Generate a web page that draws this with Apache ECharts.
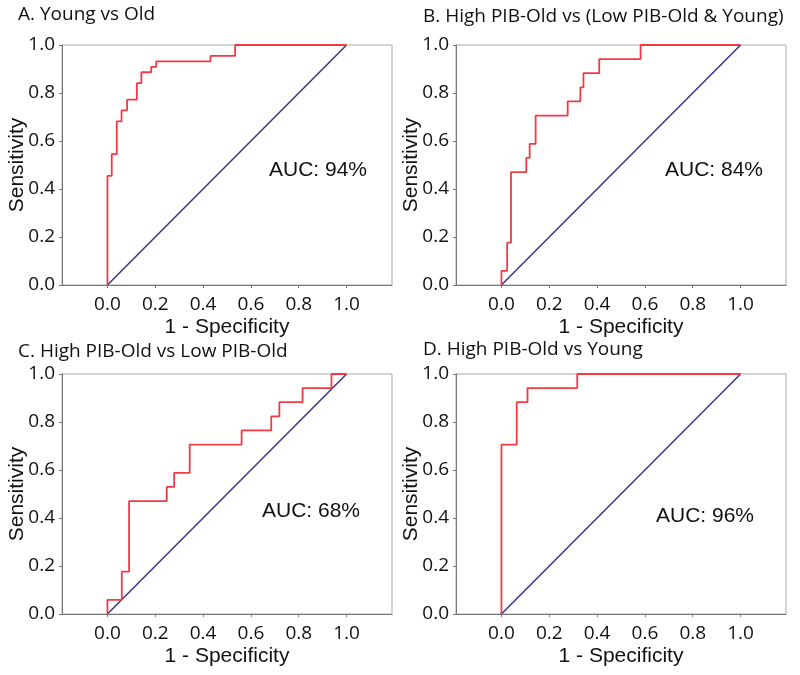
<!DOCTYPE html>
<html><head><meta charset="utf-8">
<script src="https://cdn.jsdelivr.net/npm/echarts@6/dist/echarts.min.js"></script>
<style>html,body{margin:0;padding:0;background:#fff}#c{width:800px;height:675px}</style>
</head><body><div id="c"></div>
<script>
// ---- data ----
const panelTitles = ['A. Young vs Old', 'B. High PIB-Old vs (Low PIB-Old & Young)', 'C. High PIB-Old vs Low PIB-Old', 'D. High PIB-Old vs Young'];
const aucLabels = ['AUC: 94%', 'AUC: 84%', 'AUC: 68%', 'AUC: 96%'];
const xTickValues = [0, 0.2, 0.4, 0.6, 0.8, 1.0];
const yTickValues = [0, 0.2, 0.4, 0.6, 0.8, 1.0];
const xAxisTitle = '1 - Specificity';
const yAxisTitle = 'Sensitivity';

const fprA = [0, 0.018, 0.039, 0.059, 0.082, 0.123, 0.142, 0.183, 0.204, 0.431, 0.534, 1.0];
const tprA = [0, 0.4545, 0.5455, 0.6818, 0.7273, 0.7727, 0.8409, 0.8864, 0.9091, 0.9318, 0.9545, 1.0];
const fprB = [0, 0.024, 0.040, 0.104, 0.118, 0.143, 0.277, 0.330, 0.343, 0.409, 0.582, 1.0];
const tprB = [0, 0.0588, 0.1765, 0.4706, 0.5294, 0.5882, 0.7059, 0.7647, 0.8235, 0.8824, 0.9412, 1.0];
const fprC = [0, 0.060, 0.0905, 0.248, 0.279, 0.344, 0.561, 0.685, 0.719, 0.816, 0.937, 1.0];
const tprC = [0, 0.0588, 0.1765, 0.4706, 0.5294, 0.5882, 0.7059, 0.7647, 0.8235, 0.8824, 0.9412, 1.0];
const fprD = [0, 0.064, 0.109, 0.317, 1.0];
const tprD = [0, 0.7059, 0.8824, 0.9412, 1.0];
const diagX = [0, 1];
const diagY = [0, 1];

// ---- layout / style ----
const fprs = [fprA, fprB, fprC, fprD];
const tprs = [tprA, tprB, tprC, tprD];
const grids = [
  {left: 62, top: 45, width: 330, height: 240},
  {left: 456, top: 45, width: 330, height: 240},
  {left: 62, top: 374, width: 330, height: 240},
  {left: 456, top: 374, width: 330, height: 240}
];
const titlePos = [[18, 5], [423, 7], [18, 342], [423, 340]];
const aucPos = [[269, 172], [665, 172], [262, 513], [656, 518]];
const tickFont = '"Open Sans", sans-serif';
const nameFont = '"Liberation Sans", Arial, sans-serif';
const RED = '#f23a44', NAVY = '#35358a';

const option = {
  backgroundColor: '#fff',
  animation: false,
  title: panelTitles.map((t, i) => ({
    text: t, left: titlePos[i][0], top: titlePos[i][1], padding: 0,
    textStyle: {fontFamily: tickFont, fontSize: 19, fontWeight: 'normal', color: '#111'}
  })),
  grid: grids.map(g => Object.assign({show: true, borderColor: '#aaa', borderWidth: 1, backgroundColor: '#fff'}, g)),
  xAxis: grids.map((g, i) => ({
    type: 'value', gridIndex: i, min: -0.19, max: 1.19,
    name: xAxisTitle, nameLocation: 'middle', nameGap: 32, nameMoveOverlap: false,
    nameTextStyle: {fontFamily: nameFont, fontSize: 21, color: '#111'},
    axisLine: {show: true, onZero: false, lineStyle: {color: '#777', width: 1}},
    axisTick: {show: true, length: 3, customValues: xTickValues, lineStyle: {color: '#777'}},
    axisLabel: {customValues: xTickValues, margin: 10, fontFamily: tickFont, fontSize: 19, color: '#111',
      formatter: v => v.toFixed(1)},
    splitLine: {show: false}
  })),
  yAxis: grids.map((g, i) => ({
    type: 'value', gridIndex: i, min: 0, max: 1, interval: 0.2,
    name: yAxisTitle, nameLocation: 'middle', nameGap: 34, nameMoveOverlap: false,
    nameTextStyle: {fontFamily: nameFont, fontSize: 21, color: '#111'},
    axisLine: {show: true, onZero: false, lineStyle: {color: '#777', width: 1}},
    axisTick: {show: true, length: 3, lineStyle: {color: '#777'}},
    axisLabel: {margin: 7, fontFamily: tickFont, fontSize: 19, color: '#111',
      formatter: v => v.toFixed(1)},
    splitLine: {show: false}
  })),
  graphic: aucLabels.map((t, i) => ({
    type: 'text', left: aucPos[i][0], top: aucPos[i][1] - 12, z: 10,
    style: {text: t, fontFamily: nameFont, fontSize: 21, fill: '#111'}
  })),
  series: []
};
for (let i = 0; i < 4; i++) {
  option.series.push({
    type: 'line', xAxisIndex: i, yAxisIndex: i, symbol: 'none', z: 2,
    data: diagX.map((x, k) => [x, diagY[k]]),
    lineStyle: {color: NAVY, width: 1.5}
  });
  option.series.push({
    type: 'line', xAxisIndex: i, yAxisIndex: i, symbol: 'none', step: 'start', z: 3,
    data: fprs[i].map((x, k) => [x, tprs[i][k]]),
    lineStyle: {color: RED, width: 1.8}
  });
}
const chart = echarts.init(document.getElementById('c'), null, {renderer: 'canvas'});
chart.setOption(option);
</script>
</body></html>
